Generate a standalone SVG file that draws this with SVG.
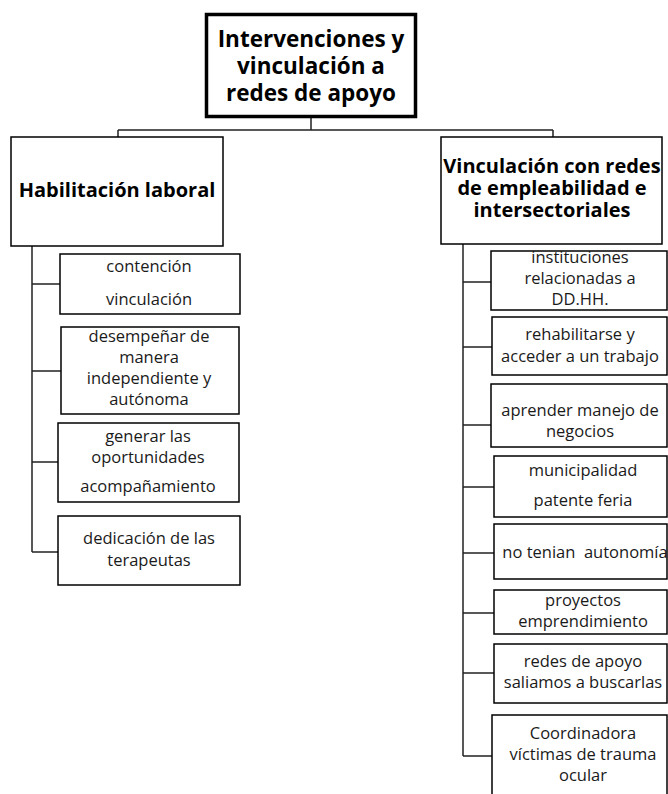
<svg xmlns="http://www.w3.org/2000/svg" width="668" height="794" viewBox="0 0 668 794">
<style>
.bx{fill:#fff;stroke:#000;stroke-width:1.5}
.root{fill:#fff;stroke:#000;stroke-width:3.5}
.ln{fill:none;stroke:#222;stroke-width:1.5}
text{font-family:"Open Sans","Liberation Sans",sans-serif;fill:#1a1a1a;text-anchor:middle}
.t{font-size:16.5px}
.h{font-weight:bold;font-size:20px;fill:#000}
.r{font-weight:bold;font-size:22.5px;fill:#000}
</style>
<rect width="668" height="794" fill="#fff"/>
<g id="connectors">
<path class="ln" d="M311,118 V130 M118,130 H553 M118,130 V137 M553,130 V137"/>
<path class="ln" d="M32,246 V552 M32,284 H60 M32,371 H61 M32,462 H58 M32,552 H58"/>
<path class="ln" d="M463,244 V756 M463,282 H491 M463,347 H492 M463,425 H491 M463,487 H494 M463,553 H494 M463,613 H494 M463,673 H494 M463,756 H492"/>
</g>
<g id="root">
<rect class="root" x="206.5" y="14.5" width="209" height="102"/>
<text class="r" x="311" y="47">Intervenciones y</text>
<text class="r" x="311" y="74">vinculación a</text>
<text class="r" x="311" y="101">redes de apoyo</text>
</g>
<g id="habilitacion">
<rect class="bx" x="11" y="137" width="212" height="109"/>
<text class="h" x="117" y="197">Habilitación laboral</text>
</g>
<g id="vinculacion">
<rect class="bx" x="441" y="137" width="221" height="107"/>
<text class="h" x="552" y="173">Vinculación con redes</text>
<text class="h" x="552" y="195">de empleabilidad e</text>
<text class="h" x="552" y="217">intersectoriales</text>
</g>
<g id="l1">
<rect class="bx" x="60" y="254" width="180" height="60"/>
<text class="t" x="149" y="272">contención</text>
<text class="t" x="149" y="305">vinculación</text>
</g>
<g id="l2">
<rect class="bx" x="61" y="327" width="178" height="87"/>
<text class="t" x="149" y="342">desempeñar de</text>
<text class="t" x="149" y="363">manera</text>
<text class="t" x="149" y="384">independiente y</text>
<text class="t" x="149" y="405">autónoma</text>
</g>
<g id="l3">
<rect class="bx" x="58" y="423" width="181" height="79"/>
<text class="t" x="148" y="442">generar las</text>
<text class="t" x="148" y="463">oportunidades</text>
<text class="t" x="148" y="492">acompañamiento</text>
</g>
<g id="l4">
<rect class="bx" x="58" y="516" width="182" height="69"/>
<text class="t" x="149" y="544">dedicación de las</text>
<text class="t" x="149" y="566">terapeutas</text>
</g>
<g id="r1">
<rect class="bx" x="491" y="251" width="176" height="59"/>
<text class="t" x="580" y="263">instituciones</text>
<text class="t" x="580" y="284">relacionadas a</text>
<text class="t" x="580" y="305">DD.HH.</text>
</g>
<g id="r2">
<rect class="bx" x="492" y="317" width="175" height="58"/>
<text class="t" x="580" y="340">rehabilitarse y</text>
<text class="t" x="580" y="362">acceder a un trabajo</text>
</g>
<g id="r3">
<rect class="bx" x="491" y="384" width="176" height="63"/>
<text class="t" x="580" y="416">aprender manejo de</text>
<text class="t" x="580" y="437">negocios</text>
</g>
<g id="r4">
<rect class="bx" x="494" y="456" width="173" height="61"/>
<text class="t" x="583" y="476">municipalidad</text>
<text class="t" x="583" y="506">patente feria</text>
</g>
<g id="r5">
<rect class="bx" x="494" y="524" width="173" height="55"/>
<text class="t" x="585" y="558" xml:space="preserve">no tenian  autonomía</text>
</g>
<g id="r6">
<rect class="bx" x="494" y="590" width="173" height="44"/>
<text class="t" x="583" y="606">proyectos</text>
<text class="t" x="583" y="627">emprendimiento</text>
</g>
<g id="r7">
<rect class="bx" x="494" y="644" width="173" height="59"/>
<text class="t" x="583" y="667">redes de apoyo</text>
<text class="t" x="583" y="688">saliamos a buscarlas</text>
</g>
<g id="r8">
<rect class="bx" x="492" y="715" width="175" height="85"/>
<text class="t" x="583" y="739">Coordinadora</text>
<text class="t" x="583" y="760">víctimas de trauma</text>
<text class="t" x="583" y="781">ocular</text>
</g>
</svg>
